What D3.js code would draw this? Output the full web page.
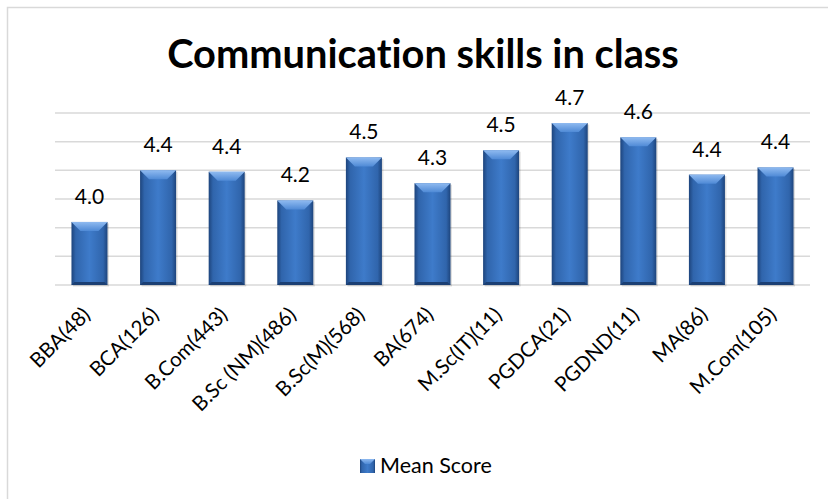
<!DOCTYPE html>
<html>
<head>
<meta charset="utf-8">
<script src="https://cdn.jsdelivr.net/npm/d3@7"></script>
<style>
  html, body { margin: 0; padding: 0; background: #fff; }
  svg { display: block; font-family: Lato, "Open Sans", sans-serif; font-variant-ligatures: none; }
</style>
</head>
<body>
<svg id="chart" width="828" height="499"></svg>
<script>
const categories = ['BBA(48)', 'BCA(126)', 'B.Com(443)', 'B.Sc (NM)(486)', 'B.Sc(M)(568)', 'BA(674)',
  'M.Sc(IT)(11)', 'PGDCA(21)', 'PGDND(11)', 'MA(86)', 'M.Com(105)'];
const meanScore = [4.04, 4.40, 4.39, 4.19, 4.49, 4.31, 4.54, 4.73, 4.63, 4.37, 4.42];
const yTicks = [3.6, 3.8, 4.0, 4.2, 4.4, 4.6, 4.8];
const title = 'Communication skills in class';
const seriesName = 'Mean Score';

const W = 828, H = 499;
const svg = d3.select('#chart');

// outer chart border (only top & left fall inside the picture)
svg.append('rect').attr('x', 7.5).attr('y', 7.5).attr('width', W + 20).attr('height', H + 20)
  .attr('fill', '#fff').attr('stroke', '#d9d9d9').attr('stroke-width', 1.5);

const defs = svg.append('defs');
const g1 = defs.append('linearGradient').attr('id', 'barg').attr('x1', 0).attr('x2', 1).attr('y1', 0).attr('y2', 0);
g1.append('stop').attr('offset', '0%').attr('stop-color', '#1d447c');
g1.append('stop').attr('offset', '12%').attr('stop-color', '#3065ac');
g1.append('stop').attr('offset', '50%').attr('stop-color', '#3e7bca');
g1.append('stop').attr('offset', '88%').attr('stop-color', '#3065ac');
g1.append('stop').attr('offset', '100%').attr('stop-color', '#1d447c');
const g2 = defs.append('linearGradient').attr('id', 'topg').attr('x1', 0).attr('x2', 0).attr('y1', 0).attr('y2', 1);
g2.append('stop').attr('offset', '0%').attr('stop-color', '#8fbaf0');
g2.append('stop').attr('offset', '100%').attr('stop-color', '#4f8ad6');

const x = d3.scaleBand().domain(categories).range([55, 810]).paddingInner(0.475).paddingOuter(0.24);
const y = d3.scaleLinear().domain([3.6, 4.8]).range([285, 113]);

// gridlines
svg.append('g').selectAll('line').data(yTicks).join('line')
  .attr('x1', 55).attr('x2', 810)
  .attr('y1', (d) => y(d)).attr('y2', (d) => y(d))
  .attr('stroke', '#d9d9d9').attr('stroke-width', 1.5);

// bars
const bw = x.bandwidth();
const bars = svg.append('g').selectAll('g').data(categories).join('g')
  .attr('transform', (d) => `translate(${x(d)},0)`);
bars.append('rect').attr('x', 1.5).attr('y', (d, i) => y(meanScore[i]) + 1.5)
  .attr('width', bw).attr('height', (d, i) => y(3.6) - y(meanScore[i]))
  .attr('fill', '#000').attr('opacity', 0.12);
bars.append('rect').attr('x', 0).attr('y', (d, i) => y(meanScore[i]))
  .attr('width', bw).attr('height', (d, i) => y(3.6) - y(meanScore[i]))
  .attr('fill', 'url(#barg)');
const bev = 9;
bars.append('path')
  .attr('d', (d, i) => {
    const t = y(meanScore[i]);
    return `M0,${t}L${bw},${t}L${bw - bev},${t + bev}L${bev},${t + bev}Z`;
  })
  .attr('fill', 'url(#topg)');
bars.append('path')
  .attr('d', () => {
    const b = y(3.6);
    return `M0,${b}L${bw},${b}L${bw - 3},${b - 3}L3,${b - 3}Z`;
  })
  .attr('fill', '#1b3f73');

// value labels
svg.append('g').selectAll('text').data(categories).join('text')
  .attr('x', (d) => x(d) + bw / 2)
  .attr('y', (d, i) => y(meanScore[i]) - 18)
  .attr('text-anchor', 'middle')
  .attr('font-size', 21).attr('fill', '#000')
  .text((d, i) => meanScore[i].toFixed(1));

// category labels
svg.append('g').selectAll('text').data(categories).join('text')
  .attr('transform', (d) => `translate(${x(d) + bw / 2 + 2},${316}) rotate(-45)`)
  .attr('text-anchor', 'end')
  .attr('font-size', 20.5).attr('fill', '#000')
  .text((d) => d);

// title, sized to span the same width as the original
const tt = svg.append('text').attr('x', 423).attr('y', 68)
  .attr('text-anchor', 'middle').attr('font-weight', 'bold')
  .attr('font-size', 40).attr('fill', '#000')
  .text(title);
const tw = tt.node().getComputedTextLength();
tt.attr('font-size', 40 * 512 / tw);

// legend
const lg = svg.append('g');
lg.append('text').attr('x', 380).attr('y', 473)
  .attr('font-size', 21.5).attr('fill', '#000').text(seriesName);
lg.append('rect').attr('x', 360).attr('y', 459).attr('width', 15).attr('height', 14).attr('fill', 'url(#barg)');
lg.append('path').attr('d', 'M360,459L375,459L370,464L365,464Z').attr('fill', 'url(#topg)');
</script>
</body>
</html>
